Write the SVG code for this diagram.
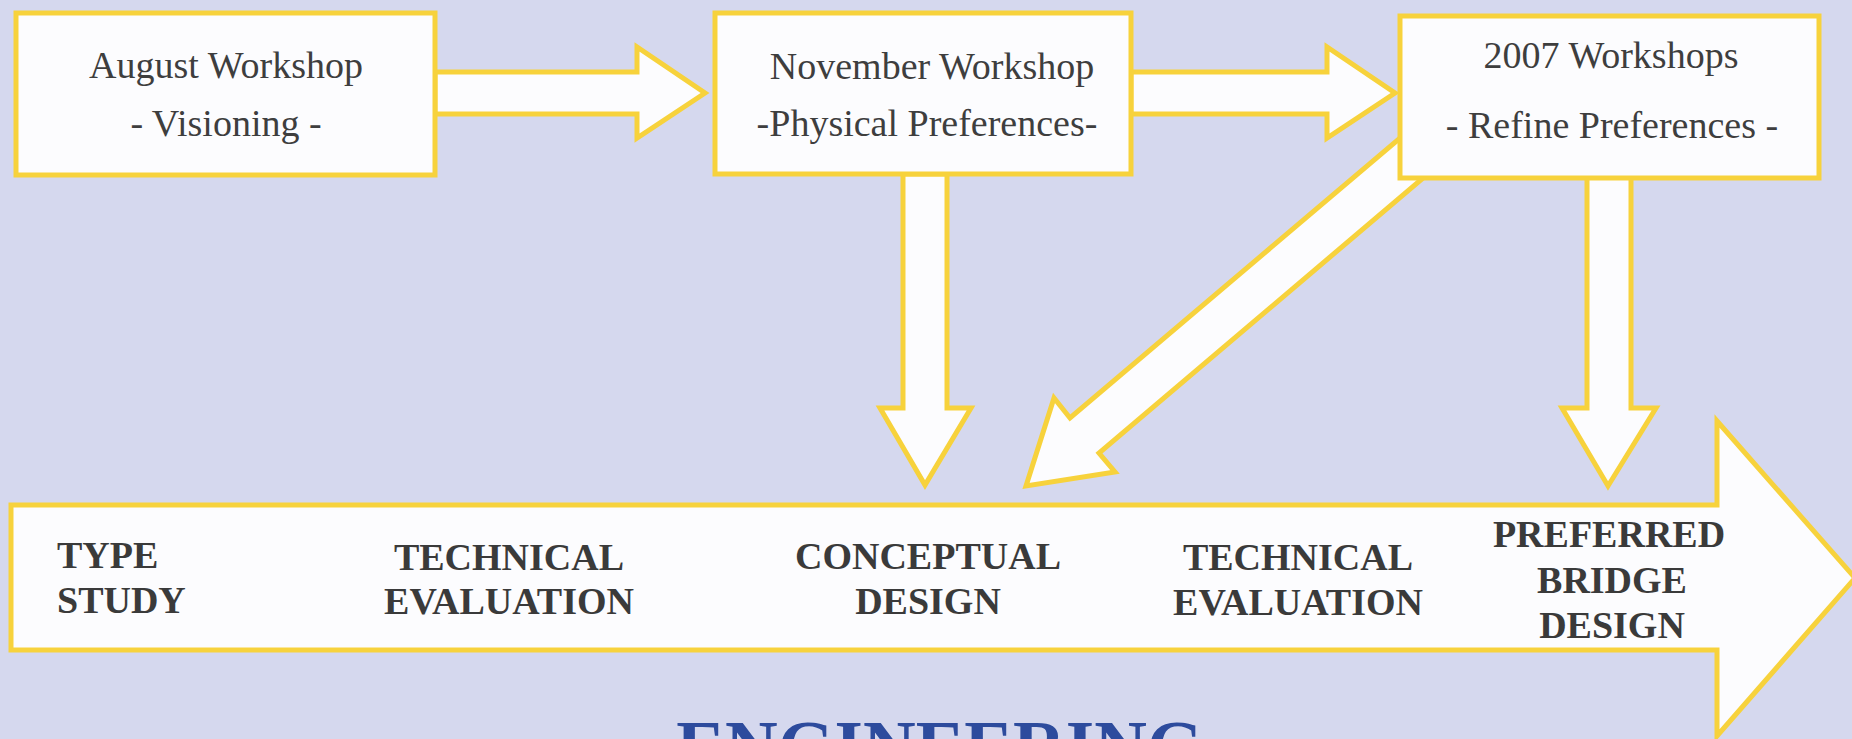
<svg xmlns="http://www.w3.org/2000/svg" width="1852" height="739" viewBox="0 0 1852 739">
<style>
.shape{fill:#fcfcfe;stroke:#f7d23c;stroke-width:5;stroke-linejoin:miter}
.t{font-family:"Liberation Serif","Times New Roman",serif;font-size:38px;fill:#3e3e3e;text-anchor:middle}
.b{font-family:"Liberation Serif","Times New Roman",serif;font-size:38px;font-weight:bold;fill:#3a3a3a;text-anchor:middle}
.eng{font-family:"Liberation Serif","Times New Roman",serif;font-size:73px;font-weight:bold;fill:#2d4b9d;text-anchor:middle}
</style>
<rect x="0" y="0" width="1852" height="739" fill="#d5d8ee"/>

<g id="connectors">
  <polygon class="shape" points="435,72 637,72 637,47 705,93 637,138 637,114 435,114"/>
  <polygon class="shape" points="1131,72 1327,72 1327,47 1395,93 1327,138 1327,114 1131,114"/>
  <polygon class="shape" points="903,174 947,174 947,408 971,408 925,485 880,408 903,408"/>
  <polygon class="shape" points="1587,177 1631,177 1631,408 1656,408 1608,486 1562,408 1587,408"/>
  <polygon class="shape" points="1413,127 1442,162 1099,453 1115,472 1026,486 1054,398 1070,418"/>
</g>

<g id="node-august">
  <rect class="shape" x="16" y="13" width="419" height="162"/>
  <text class="t" x="226" y="78">August Workshop</text>
  <text class="t" x="226" y="136">- Visioning -</text>
</g>

<g id="node-november">
  <rect class="shape" x="715" y="13" width="416" height="161"/>
  <text class="t" x="932" y="79">November Workshop</text>
  <text class="t" x="927" y="136">-Physical Preferences-</text>
</g>

<g id="node-2007">
  <rect class="shape" x="1400" y="16" width="419" height="162"/>
  <text class="t" x="1611" y="68">2007 Workshops</text>
  <text class="t" x="1612" y="138">- Refine Preferences -</text>
</g>

<g id="node-engineering-arrow">
  <polygon class="shape" points="11,505 1717,505 1717,421 1855,578 1717,736 1717,650 11,650"/>
  <text class="b" x="57" y="568" style="text-anchor:start">TYPE</text>
  <text class="b" x="57" y="613" style="text-anchor:start">STUDY</text>
  <text class="b" x="509" y="570">TECHNICAL</text>
  <text class="b" x="509" y="614">EVALUATION</text>
  <text class="b" x="928" y="569">CONCEPTUAL</text>
  <text class="b" x="928" y="614">DESIGN</text>
  <text class="b" x="1298" y="570">TECHNICAL</text>
  <text class="b" x="1298" y="615">EVALUATION</text>
  <text class="b" x="1609" y="547">PREFERRED</text>
  <text class="b" x="1612" y="593">BRIDGE</text>
  <text class="b" x="1612" y="638">DESIGN</text>
</g>

<g id="title">
  <text class="eng" x="940" y="772">ENGINEERING</text>
</g>
</svg>
